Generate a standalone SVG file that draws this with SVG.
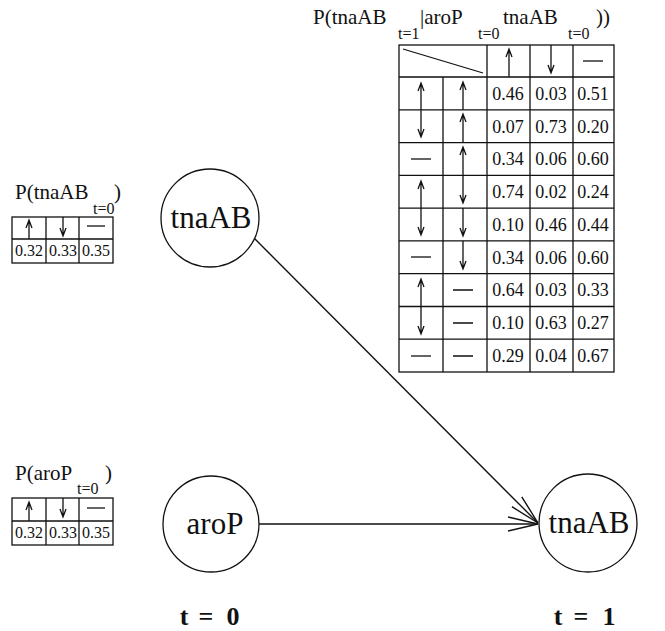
<svg xmlns="http://www.w3.org/2000/svg" width="665" height="631" viewBox="0 0 665 631">
  <style>
    text { font-family: "Liberation Serif", "Times New Roman", serif; fill: #111; }
    .t { font-size: 21px; }
    .sub { font-size: 16px; }
    .v { font-size: 18px; text-anchor: middle; }
    .vs { font-size: 16px; text-anchor: middle; }
    .n { font-size: 31px; text-anchor: middle; }
    .lbl { font-size: 26px; font-weight: bold; text-anchor: middle; }
    .grid { fill: #fff; stroke: #111; stroke-width: 1.3; }
    .ln { stroke: #111; stroke-width: 1.3; fill: none; }
    .node { fill: #fff; stroke: #111; stroke-width: 1.3; }
    .edge { stroke: #111; stroke-width: 1.4; fill: none; }
  </style>
  <defs>
    <marker id="open" viewBox="0 0 30 16" refX="30" refY="8" markerWidth="30" markerHeight="16" markerUnits="userSpaceOnUse" orient="auto">
      <path d="M0,1 L30,8 L0,15" fill="none" stroke="#111" stroke-width="1.4"/>
    </marker>
  </defs>

  <!-- conditional table for tnaAB at t=1 -->
  <g id="cpt-tnaAB-t1">
    <text class="t" x="313" y="24">P(tnaAB</text>
    <text class="sub" x="398" y="39">t=1</text>
    <text class="t" x="420" y="24">|aroP</text>
    <text class="sub" x="478" y="39">t=0</text>
    <text class="t" x="503" y="24">tnaAB</text>
    <text class="sub" x="568" y="39">t=0</text>
    <text class="t" x="596" y="24">))</text>

    <rect class="grid" x="399" y="45" width="215" height="327"/>
    <path class="ln" d="M443,77 V372 M487,45 V372 M530,45 V372 M573,45 V372
                        M399,77 H614 M399,109.8 H614 M399,142.6 H614 M399,175.3 H614
                        M399,208.1 H614 M399,240.9 H614 M399,273.7 H614 M399,306.5 H614 M399,339.2 H614"/>
    <path class="ln" d="M403,49 L483,73"/>
    <!-- header states -->
    <path class="ln" d="M509,77 V49 M506,57 L509,49 L512,57"/>
    <path class="ln" d="M551,45 V73 M548,65 L551,73 L554,65"/>
    <path class="ln" d="M583,61 H603"/>
    <!-- aroP column -->
    <path class="ln" d="M421,109.8 V83 M418,91 L421,83 L424,91"/>
    <path class="ln" d="M421,109.8 V137 M418,129 L421,137 L424,129"/>
    <path class="ln" d="M411,159 H431"/>
    <path class="ln" d="M421,208.1 V181 M418,189 L421,181 L424,189"/>
    <path class="ln" d="M421,208.1 V235 M418,227 L421,235 L424,227"/>
    <path class="ln" d="M411,257 H431"/>
    <path class="ln" d="M421,306.5 V279 M418,287 L421,279 L424,287"/>
    <path class="ln" d="M421,306.5 V334 M418,326 L421,334 L424,326"/>
    <path class="ln" d="M411,356 H431"/>
    <!-- tnaAB column -->
    <path class="ln" d="M463,109.8 V82 M460,90 L463,82 L466,90"/>
    <path class="ln" d="M463,142.6 V114 M460,122 L463,114 L466,122"/>
    <path class="ln" d="M463,175.3 V147 M460,155 L463,147 L466,155"/>
    <path class="ln" d="M463,175.3 V203 M460,195 L463,203 L466,195"/>
    <path class="ln" d="M463,208.1 V236 M460,228 L463,236 L466,228"/>
    <path class="ln" d="M463,240.9 V269 M460,261 L463,269 L466,261"/>
    <path class="ln" d="M453,290 H473 M453,323 H473 M453,356 H473"/>
    <!-- probabilities -->
    <text class="v" x="508" y="100">0.46</text><text class="v" x="551" y="100">0.03</text><text class="v" x="593" y="100">0.51</text>
    <text class="v" x="508" y="133">0.07</text><text class="v" x="551" y="133">0.73</text><text class="v" x="593" y="133">0.20</text>
    <text class="v" x="508" y="165">0.34</text><text class="v" x="551" y="165">0.06</text><text class="v" x="593" y="165">0.60</text>
    <text class="v" x="508" y="198">0.74</text><text class="v" x="551" y="198">0.02</text><text class="v" x="593" y="198">0.24</text>
    <text class="v" x="508" y="231">0.10</text><text class="v" x="551" y="231">0.46</text><text class="v" x="593" y="231">0.44</text>
    <text class="v" x="508" y="264">0.34</text><text class="v" x="551" y="264">0.06</text><text class="v" x="593" y="264">0.60</text>
    <text class="v" x="508" y="296">0.64</text><text class="v" x="551" y="296">0.03</text><text class="v" x="593" y="296">0.33</text>
    <text class="v" x="508" y="329">0.10</text><text class="v" x="551" y="329">0.63</text><text class="v" x="593" y="329">0.27</text>
    <text class="v" x="508" y="362">0.29</text><text class="v" x="551" y="362">0.04</text><text class="v" x="593" y="362">0.67</text>
  </g>

  <!-- prior table for tnaAB at t=0 -->
  <g id="prior-tnaAB-t0">
    <text class="t" x="15" y="199">P(tnaAB</text>
    <text class="sub" x="93" y="214">t=0</text>
    <text class="t" x="114" y="199">)</text>
    <rect class="grid" x="12" y="217" width="101" height="46"/>
    <path class="ln" d="M46,217 V263 M79,217 V263 M12,239 H113"/>
    <path class="ln" d="M29,239 V220 M26,228 L29,220 L32,228"/>
    <path class="ln" d="M63,217 V236 M60,228 L63,236 L66,228"/>
    <path class="ln" d="M87,226 H105"/>
    <text class="vs" x="29" y="256">0.32</text><text class="vs" x="63" y="256">0.33</text><text class="vs" x="96" y="256">0.35</text>
  </g>

  <!-- prior table for aroP at t=0 -->
  <g id="prior-aroP-t0">
    <text class="t" x="15" y="480">P(aroP</text>
    <text class="sub" x="77" y="494">t=0</text>
    <text class="t" x="105" y="480">)</text>
    <rect class="grid" x="12" y="498" width="101" height="47"/>
    <path class="ln" d="M46,498 V545 M79,498 V545 M12,521 H113"/>
    <path class="ln" d="M29,521 V502 M26,510 L29,502 L32,510"/>
    <path class="ln" d="M63,498 V517 M60,509 L63,517 L66,509"/>
    <path class="ln" d="M87,508 H105"/>
    <text class="vs" x="29" y="538">0.32</text><text class="vs" x="63" y="538">0.33</text><text class="vs" x="96" y="538">0.35</text>
  </g>

  <!-- connectors -->
  <g id="edges">
    <path class="edge" d="M252,236 L538,523" marker-end="url(#open)"/>
    <path class="edge" d="M259,524 L538,524" marker-end="url(#open)"/>
  </g>

  <!-- variables -->
  <g id="node-tnaAB-t0">
    <circle class="node" cx="210" cy="218" r="49"/>
    <text class="n" x="211" y="228">tnaAB</text>
  </g>
  <g id="node-aroP-t0">
    <circle class="node" cx="211" cy="524" r="48"/>
    <text class="n" x="215" y="534">aroP</text>
  </g>
  <g id="node-tnaAB-t1">
    <circle class="node" cx="588" cy="523" r="49"/>
    <text class="n" x="589" y="533">tnaAB</text>
  </g>

  <!-- time slice labels -->
  <text class="lbl" x="184" y="625">t</text>
  <text class="lbl" x="206" y="625">=</text>
  <text class="lbl" x="233" y="625">0</text>
  <text class="lbl" x="558" y="625">t</text>
  <text class="lbl" x="581" y="625">=</text>
  <text class="lbl" x="609" y="625">1</text>
</svg>
